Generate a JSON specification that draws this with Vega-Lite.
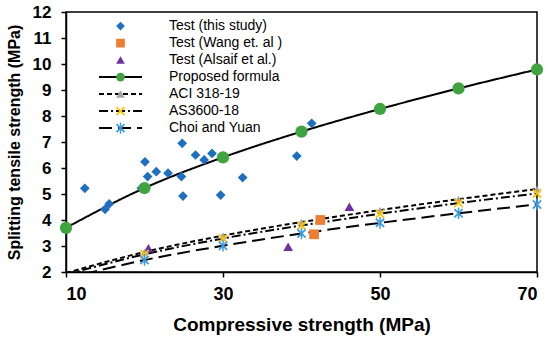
{
  "$schema": "https://vega.github.io/schema/vega-lite/v6.json",
  "width": 471,
  "height": 260,
  "autosize": {"type": "none"},
  "padding": {"left": 66, "top": 12, "right": 13, "bottom": 71},
  "background": "white",
  "config": {
    "font": "Liberation Sans",
    "view": {"stroke": "black", "strokeWidth": 1.5},
    "axis": {"domainColor": "black", "domainWidth": 1.5, "tickColor": "black", "tickWidth": 1.5, "grid": false, "labelColor": "black", "titleColor": "black", "labelFont": "Liberation Sans", "titleFont": "Liberation Sans", "labelFontWeight": "bold", "titleFontWeight": "bold"}
  },
  "data": {
    "values": [
      {"s": "Test (this study)", "fc": 12.4, "ft": 5.22},
      {"s": "Test (this study)", "fc": 14.97, "ft": 4.41},
      {"s": "Test (this study)", "fc": 15.5, "ft": 4.62},
      {"s": "Test (this study)", "fc": 19.6, "ft": 5.22},
      {"s": "Test (this study)", "fc": 20.06, "ft": 6.24},
      {"s": "Test (this study)", "fc": 20.4, "ft": 5.67},
      {"s": "Test (this study)", "fc": 21.5, "ft": 5.86},
      {"s": "Test (this study)", "fc": 23.0, "ft": 5.8},
      {"s": "Test (this study)", "fc": 24.8, "ft": 6.95},
      {"s": "Test (this study)", "fc": 24.7, "ft": 5.67},
      {"s": "Test (this study)", "fc": 24.9, "ft": 4.92},
      {"s": "Test (this study)", "fc": 26.5, "ft": 6.5},
      {"s": "Test (this study)", "fc": 27.6, "ft": 6.31},
      {"s": "Test (this study)", "fc": 28.6, "ft": 6.56},
      {"s": "Test (this study)", "fc": 29.7, "ft": 4.96},
      {"s": "Test (this study)", "fc": 32.5, "ft": 5.63},
      {"s": "Test (this study)", "fc": 39.4, "ft": 6.46},
      {"s": "Test (this study)", "fc": 41.3, "ft": 7.72},
      {"s": "Test (Wang et. al )", "fc": 42.4, "ft": 4.0},
      {"s": "Test (Wang et. al )", "fc": 41.6, "ft": 3.45},
      {"s": "Test (Alsaif et al.)", "fc": 20.5, "ft": 2.91},
      {"s": "Test (Alsaif et al.)", "fc": 38.3, "ft": 2.97},
      {"s": "Test (Alsaif et al.)", "fc": 46.1, "ft": 4.51},
      {"s": "Proposed formula", "fc": 10, "ft": 3.70},
      {"s": "Proposed formula", "fc": 20, "ft": 5.23},
      {"s": "Proposed formula", "fc": 30, "ft": 6.41},
      {"s": "Proposed formula", "fc": 40, "ft": 7.40},
      {"s": "Proposed formula", "fc": 50, "ft": 8.27},
      {"s": "Proposed formula", "fc": 60, "ft": 9.06},
      {"s": "Proposed formula", "fc": 70, "ft": 9.79},
      {"s": "ACI 318-19", "fc": 10, "ft": 1.96},
      {"s": "ACI 318-19", "fc": 20, "ft": 2.77},
      {"s": "ACI 318-19", "fc": 30, "ft": 3.40},
      {"s": "ACI 318-19", "fc": 40, "ft": 3.92},
      {"s": "ACI 318-19", "fc": 50, "ft": 4.38},
      {"s": "ACI 318-19", "fc": 60, "ft": 4.80},
      {"s": "ACI 318-19", "fc": 70, "ft": 5.19},
      {"s": "AS3600-18", "fc": 10, "ft": 1.90},
      {"s": "AS3600-18", "fc": 20, "ft": 2.68},
      {"s": "AS3600-18", "fc": 30, "ft": 3.29},
      {"s": "AS3600-18", "fc": 40, "ft": 3.79},
      {"s": "AS3600-18", "fc": 50, "ft": 4.24},
      {"s": "AS3600-18", "fc": 60, "ft": 4.65},
      {"s": "AS3600-18", "fc": 70, "ft": 5.02},
      {"s": "Choi and Yuan", "fc": 10, "ft": 1.74},
      {"s": "Choi and Yuan", "fc": 20, "ft": 2.46},
      {"s": "Choi and Yuan", "fc": 30, "ft": 3.01},
      {"s": "Choi and Yuan", "fc": 40, "ft": 3.48},
      {"s": "Choi and Yuan", "fc": 50, "ft": 3.89},
      {"s": "Choi and Yuan", "fc": 60, "ft": 4.26},
      {"s": "Choi and Yuan", "fc": 70, "ft": 4.60}
    ]
  },
  "encoding": {
    "x": {"field": "fc", "type": "quantitative", "scale": {"domain": [10, 70], "nice": false, "zero": false},
      "axis": {"title": "Compressive strength (MPa)", "values": [10, 30, 50, 70], "tickSize": 5, "labelPadding": 8, "labelFontSize": 18, "titleFontSize": 19, "titlePadding": 12}},
    "y": {"field": "ft", "type": "quantitative", "scale": {"domain": [2, 12], "nice": false, "zero": false},
      "axis": {"title": "Splitting tensile strength (MPa)", "values": [2,3,4,5,6,7,8,9,10,11,12], "tickSize": 5, "labelPadding": 10, "labelFontSize": 17, "titleFontSize": 16, "titlePadding": 10}}
  },
  "layer": [
    {
      "transform": [{"filter": "indexof(['Proposed formula','ACI 318-19','AS3600-18','Choi and Yuan'], datum.s) >= 0"}],
      "mark": {"type": "line", "color": "black", "strokeWidth": 2, "interpolate": "monotone", "clip": true},
      "encoding": {
        "strokeDash": {"field": "s", "type": "nominal",
          "scale": {"domain": ["Test (this study)", "Test (Wang et. al )", "Test (Alsaif et al.)", "Proposed formula", "ACI 318-19", "AS3600-18", "Choi and Yuan", " "],
                    "range": [[0, 1000], [0, 1000], [0, 1000], [1, 0], [5, 3], [9, 3, 2, 3], [13, 6], [0, 1000]]},
          "legend": {"orient": "top-left", "offset": 7, "title": null, "symbolType": "stroke", "symbolSize": 1849, "symbolStrokeWidth": 2, "symbolStrokeColor": "black", "clipHeight": 14.2, "rowPadding": 2, "labelFontSize": 14, "labelFont": "Liberation Sans", "labelColor": "black", "symbolOffset": 25, "labelOffset": 26, "zindex": 1}}
      }
    },
    {
      "transform": [{"filter": "indexof(['Test (this study)','Test (Wang et. al )','Test (Alsaif et al.)'], datum.s) >= 0"}],
      "mark": {"type": "point", "filled": true, "opacity": 1, "size": 95, "clip": false},
      "encoding": {
        "color": {"field": "s", "type": "nominal",
          "scale": {"domain": ["Test (this study)", "Test (Wang et. al )", "Test (Alsaif et al.)", "Proposed formula", "ACI 318-19", "AS3600-18", "Choi and Yuan"],
                    "range": ["#1F6FC0", "#ED7D31", "#7030A0", "#3FA33F", "#A5A5A5", "#FFC000", "#3D9BE0"]},
          "legend": {"orient": "none", "legendX": 7, "legendY": 7, "title": null, "clipHeight": 14.2, "rowPadding": 2, "labelFontSize": 14, "labelExpr": "''", "symbolOffset": 40.5, "symbolSize": 75, "symbolStrokeWidth": 0, "symbolOpacity": 1, "zindex": 2}
        },
        "shape": {"field": "s", "type": "nominal",
          "scale": {"domain": ["Test (this study)", "Test (Wang et. al )", "Test (Alsaif et al.)", "Proposed formula", "ACI 318-19", "AS3600-18", "Choi and Yuan"],
                    "range": ["diamond", "square", "triangle-up", "circle", "triangle-up",
                              "M0.778,-1.061L1.061,-0.778L0.283,0L1.061,0.778L0.778,1.061L0,0.283L-0.778,1.061L-1.061,0.778L-0.283,0L-1.061,-0.778L-0.778,-1.061L0,-0.283Z",
                              "M0.778,-1.061L1.061,-0.778L0.283,0L1.061,0.778L0.778,1.061L0,0.283L-0.778,1.061L-1.061,0.778L-0.283,0L-1.061,-0.778L-0.778,-1.061L0,-0.283ZM-0.17,-1.3L0.17,-1.3L0.17,1.3L-0.17,1.3Z"]},
          "legend": {"orient": "none", "legendX": 7, "legendY": 7, "title": null, "clipHeight": 14.2, "rowPadding": 2, "labelFontSize": 14, "labelExpr": "''", "symbolOffset": 40.5, "symbolSize": 75, "symbolStrokeWidth": 0, "symbolOpacity": 1, "zindex": 2}
        }
      }
    },
    {
      "transform": [{"filter": "datum.s == 'ACI 318-19' && datum.fc >= 20"}],
      "mark": {"type": "point", "filled": true, "opacity": 1, "size": 60, "clip": false},
      "encoding": {"color": {"field": "s", "type": "nominal"}, "shape": {"field": "s", "type": "nominal"}}
    },
    {
      "transform": [{"filter": "datum.s == 'Proposed formula'"}],
      "mark": {"type": "point", "filled": true, "opacity": 1, "size": 150, "clip": false},
      "encoding": {"color": {"field": "s", "type": "nominal"}, "shape": {"field": "s", "type": "nominal"}}
    },
    {
      "transform": [{"filter": "indexof(['AS3600-18','Choi and Yuan'], datum.s) >= 0 && datum.fc >= 20"}],
      "mark": {"type": "point", "filled": true, "opacity": 1, "size": 80, "clip": false},
      "encoding": {"color": {"field": "s", "type": "nominal"}, "shape": {"field": "s", "type": "nominal"}}
    }
  ]
}
